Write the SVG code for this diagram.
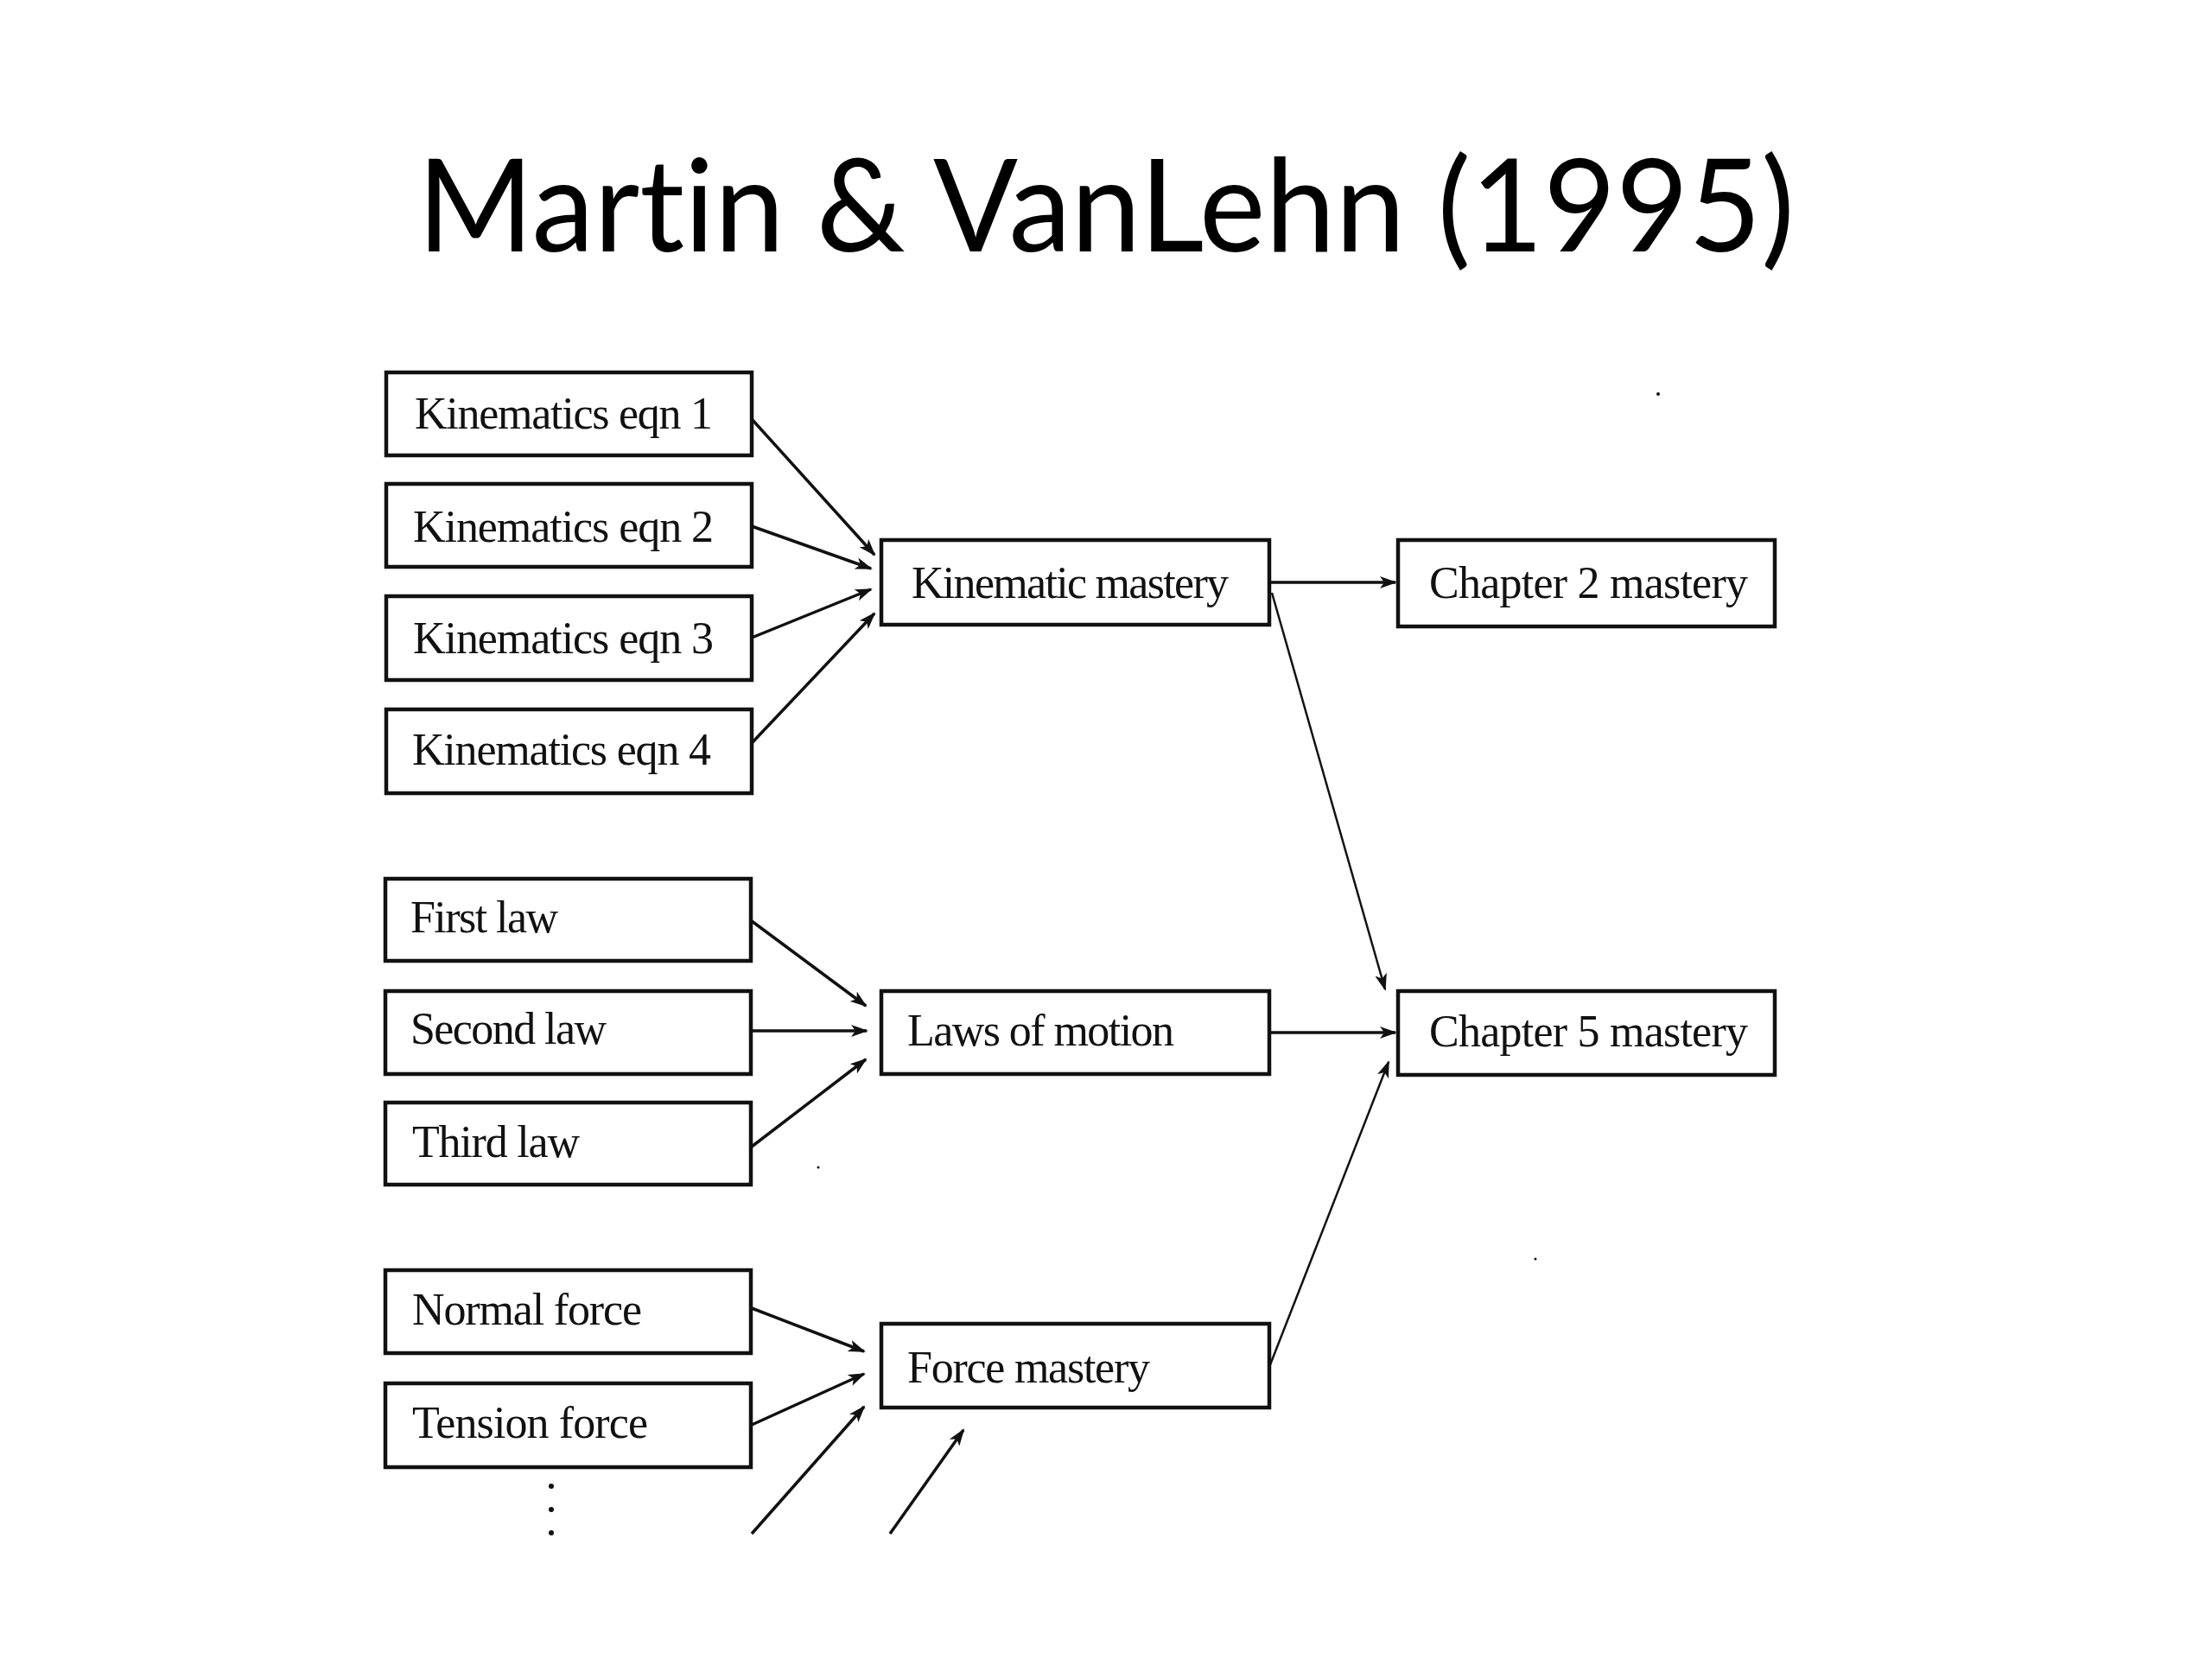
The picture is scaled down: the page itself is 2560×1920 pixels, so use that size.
<svg xmlns="http://www.w3.org/2000/svg" width="2560" height="1920" viewBox="0 0 2560 1920">
<style>
.box{fill:#fff;stroke:#111;stroke-width:4.5}
.lbl{font-family:"Liberation Serif","Times New Roman",serif;font-size:52px;fill:#111}
.title{font-family:Lato,"Open Sans","Liberation Sans",sans-serif;font-size:150px;fill:#000;font-variant-ligatures:none}
.con{stroke:#111;stroke-width:3.5;fill:none;marker-end:url(#ah)}
.thin{stroke-width:2.5}
</style>
<defs>
<marker id="ah" viewBox="0 0 20 14" refX="18" refY="7" markerWidth="20" markerHeight="14" markerUnits="userSpaceOnUse" orient="auto">
<path d="M0,0 L20,7 L0,14 L5,7 Z" fill="#111"/>
</marker>
</defs>
<rect width="2560" height="1920" fill="#fff"/>
<text class="title" x="483" y="291" textLength="1594" lengthAdjust="spacingAndGlyphs">Martin &amp; VanLehn (1995)</text>

<g id="kin1"><rect class="box" x="447" y="431" width="423" height="96"/><text class="lbl" x="480" y="496" textLength="345" lengthAdjust="spacing">Kinematics eqn 1</text></g>
<g id="kin2"><rect class="box" x="447" y="560" width="423" height="96"/><text class="lbl" x="478" y="627" textLength="348" lengthAdjust="spacing">Kinematics eqn 2</text></g>
<g id="kin3"><rect class="box" x="447" y="690" width="423" height="97"/><text class="lbl" x="478" y="756" textLength="348" lengthAdjust="spacing">Kinematics eqn 3</text></g>
<g id="kin4"><rect class="box" x="447" y="821" width="423" height="97"/><text class="lbl" x="477" y="885" textLength="346" lengthAdjust="spacing">Kinematics eqn 4</text></g>

<g id="first"><rect class="box" x="446" y="1017" width="423" height="95"/><text class="lbl" x="475" y="1079" textLength="171" lengthAdjust="spacing">First law</text></g>
<g id="second"><rect class="box" x="446" y="1147" width="423" height="96"/><text class="lbl" x="475" y="1208" textLength="227" lengthAdjust="spacing">Second law</text></g>
<g id="third"><rect class="box" x="446" y="1276" width="423" height="95"/><text class="lbl" x="477" y="1339" textLength="194" lengthAdjust="spacing">Third law</text></g>
<g id="normal"><rect class="box" x="446" y="1470" width="423" height="96"/><text class="lbl" x="477" y="1533" textLength="266" lengthAdjust="spacing">Normal force</text></g>
<g id="tension"><rect class="box" x="446" y="1601" width="423" height="97"/><text class="lbl" x="477" y="1664" textLength="273" lengthAdjust="spacing">Tension force</text></g>

<g id="kinm"><rect class="box" x="1020" y="625" width="449" height="98"/><text class="lbl" x="1055" y="692" textLength="367" lengthAdjust="spacing">Kinematic mastery</text></g>
<g id="laws"><rect class="box" x="1020" y="1147" width="449" height="96"/><text class="lbl" x="1050" y="1210" textLength="309" lengthAdjust="spacing">Laws of motion</text></g>
<g id="forcem"><rect class="box" x="1020" y="1532" width="449" height="97"/><text class="lbl" x="1050" y="1600" textLength="281" lengthAdjust="spacing">Force mastery</text></g>

<g id="ch2"><rect class="box" x="1618" y="625" width="436" height="100"/><text class="lbl" x="1654" y="692" textLength="369" lengthAdjust="spacing">Chapter 2 mastery</text></g>
<g id="ch5"><rect class="box" x="1618" y="1147" width="436" height="97"/><text class="lbl" x="1654" y="1211" textLength="369" lengthAdjust="spacing">Chapter 5 mastery</text></g>

<g id="connectors">
<line class="con" x1="870" y1="485" x2="1012" y2="642"/>
<line class="con" x1="870" y1="609" x2="1008" y2="658"/>
<line class="con" x1="870" y1="738" x2="1008" y2="682"/>
<line class="con" x1="870" y1="860" x2="1012" y2="710"/>
<line class="con" x1="1469" y1="674" x2="1615" y2="674"/>
<line class="con thin" x1="1472" y1="686" x2="1603" y2="1145"/>
<line class="con" x1="870" y1="1066" x2="1002" y2="1164"/>
<line class="con" x1="870" y1="1193" x2="1003" y2="1193"/>
<line class="con" x1="870" y1="1327" x2="1002" y2="1226"/>
<line class="con" x1="1469" y1="1195" x2="1615" y2="1195"/>
<line class="con thin" x1="1469" y1="1582" x2="1607" y2="1229"/>
<line class="con" x1="870" y1="1514" x2="1000" y2="1564"/>
<line class="con" x1="870" y1="1649" x2="1000" y2="1590"/>
<line class="con" x1="870" y1="1775" x2="1000" y2="1628"/>
<line class="con" x1="1030" y1="1775" x2="1115" y2="1655"/>
</g>
<g id="dots" fill="#111">
<circle cx="638" cy="1720" r="3"/>
<circle cx="638" cy="1747" r="3"/>
<circle cx="638" cy="1774" r="3"/>
<circle cx="1919" cy="456" r="2"/>
<circle cx="947" cy="1351" r="1.5"/>
<circle cx="1777" cy="1457" r="1.5"/>
</g>
</svg>
